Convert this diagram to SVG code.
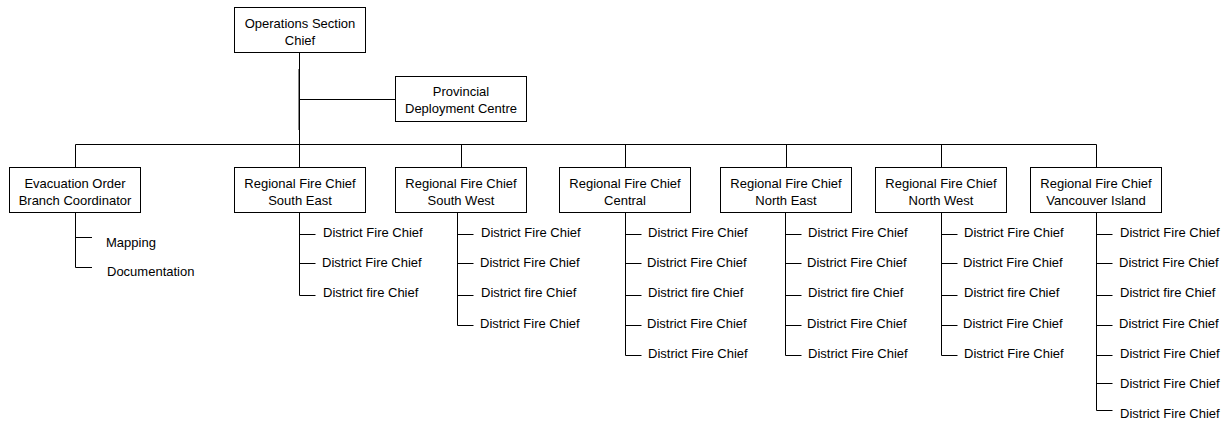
<svg xmlns="http://www.w3.org/2000/svg" width="1224" height="421" viewBox="0 0 1224 421">
<style>
.box{fill:#fff;stroke:#000;stroke-width:1}
.t{font-family:"Liberation Sans",Arial,sans-serif;font-size:13px;fill:#000}
.c{text-anchor:middle}
.ln{stroke:#000;stroke-width:1;fill:none}
</style>
<rect width="1224" height="421" fill="#fff"/>
<g id="connectors" class="ln">
<path d="M298.5 69V130" stroke="#888"/>
<path d="M299.5 52.5V167.5M299.5 99.5H395.5"/>
<path d="M75.5 144.5H1096.5"/>
<path d="M75.5 144.5V167.5M461.5 144.5V167.5M625.5 144.5V167.5M786.5 144.5V167.5M941.5 144.5V167.5M1096.5 144.5V167.5"/>
<path d="M75.5 212.5V267.5H92M75.5 237.5H92"/>
<path d="M299.5 212.5V295.5H315.5M299.5 234.5H315.5M299.5 263.5H315.5"/>
<path d="M457.5 212.5V325.5H473.5M457.5 234.5H473.5M457.5 263.5H473.5M457.5 295.5H473.5"/>
<path d="M625.5 212.5V355.5H641.5M625.5 234.5H641.5M625.5 263.5H641.5M625.5 295.5H641.5M625.5 325.5H641.5"/>
<path d="M785.5 212.5V355.5H801.5M785.5 234.5H801.5M785.5 263.5H801.5M785.5 295.5H801.5M785.5 325.5H801.5"/>
<path d="M941.5 212.5V355.5H957.5M941.5 234.5H957.5M941.5 263.5H957.5M941.5 295.5H957.5M941.5 325.5H957.5"/>
<path d="M1096.5 212.5V410.5H1112.5M1096.5 234.5H1112.5M1096.5 263.5H1112.5M1096.5 295.5H1112.5M1096.5 325.5H1112.5M1096.5 355.5H1112.5M1096.5 383.5H1112.5"/>
</g>
<g id="ops"><rect class="box" x="234.5" y="7.5" width="131" height="45"/><text class="t c" x="300" y="28">Operations Section</text><text class="t c" x="300" y="44.5">Chief</text></g>
<g id="pdc"><rect class="box" x="395.5" y="76.5" width="131" height="45"/><text class="t c" x="461" y="96">Provincial</text><text class="t c" x="461" y="112.5">Deployment Centre</text></g>
<g id="evac"><rect class="box" x="9.5" y="167.5" width="131" height="45"/><text class="t c" x="75" y="188">Evacuation Order</text><text class="t c" x="75" y="204.5">Branch Coordinator</text></g>
<g id="se"><rect class="box" x="234.5" y="167.5" width="131" height="45"/><text class="t c" x="300" y="188">Regional Fire Chief</text><text class="t c" x="300" y="204.5">South East</text></g>
<g id="sw"><rect class="box" x="395.5" y="167.5" width="131" height="45"/><text class="t c" x="461" y="188">Regional Fire Chief</text><text class="t c" x="461" y="204.5">South West</text></g>
<g id="central"><rect class="box" x="559.5" y="167.5" width="131" height="45"/><text class="t c" x="625" y="188">Regional Fire Chief</text><text class="t c" x="625" y="204.5">Central</text></g>
<g id="ne"><rect class="box" x="720.5" y="167.5" width="131" height="45"/><text class="t c" x="786" y="188">Regional Fire Chief</text><text class="t c" x="786" y="204.5">North East</text></g>
<g id="nw"><rect class="box" x="875.5" y="167.5" width="131" height="45"/><text class="t c" x="941" y="188">Regional Fire Chief</text><text class="t c" x="941" y="204.5">North West</text></g>
<g id="vi"><rect class="box" x="1030.5" y="167.5" width="131" height="45"/><text class="t c" x="1096" y="188">Regional Fire Chief</text><text class="t c" x="1096" y="204.5">Vancouver Island</text></g>
<g id="mapping"><text class="t" x="106" y="246.5">Mapping</text></g>
<g id="documentation"><text class="t" x="107" y="275.5">Documentation</text></g>
<g id="se-districts">
<g id="se-d1"><text class="t" x="323" y="237">District Fire Chief</text></g>
<g id="se-d2"><text class="t" x="322" y="267">District Fire Chief</text></g>
<g id="se-d3"><text class="t" x="323" y="297">District fire Chief</text></g>
</g>
<g id="sw-districts">
<g id="sw-d1"><text class="t" x="481" y="237">District Fire Chief</text></g>
<g id="sw-d2"><text class="t" x="480" y="267">District Fire Chief</text></g>
<g id="sw-d3"><text class="t" x="481" y="297">District fire Chief</text></g>
<g id="sw-d4"><text class="t" x="480" y="327.5">District Fire Chief</text></g>
</g>
<g id="central-districts">
<g id="c-d1"><text class="t" x="648" y="237">District Fire Chief</text></g>
<g id="c-d2"><text class="t" x="647" y="267">District Fire Chief</text></g>
<g id="c-d3"><text class="t" x="648" y="297">District fire Chief</text></g>
<g id="c-d4"><text class="t" x="647" y="327.5">District Fire Chief</text></g>
<g id="c-d5"><text class="t" x="648" y="358">District Fire Chief</text></g>
</g>
<g id="ne-districts">
<g id="ne-d1"><text class="t" x="808" y="237">District Fire Chief</text></g>
<g id="ne-d2"><text class="t" x="807" y="267">District Fire Chief</text></g>
<g id="ne-d3"><text class="t" x="808" y="297">District fire Chief</text></g>
<g id="ne-d4"><text class="t" x="807" y="327.5">District Fire Chief</text></g>
<g id="ne-d5"><text class="t" x="808" y="358">District Fire Chief</text></g>
</g>
<g id="nw-districts">
<g id="nw-d1"><text class="t" x="964" y="237">District Fire Chief</text></g>
<g id="nw-d2"><text class="t" x="963" y="267">District Fire Chief</text></g>
<g id="nw-d3"><text class="t" x="964" y="297">District fire Chief</text></g>
<g id="nw-d4"><text class="t" x="963" y="327.5">District Fire Chief</text></g>
<g id="nw-d5"><text class="t" x="964" y="358">District Fire Chief</text></g>
</g>
<g id="vi-districts">
<g id="vi-d1"><text class="t" x="1120" y="237">District Fire Chief</text></g>
<g id="vi-d2"><text class="t" x="1119" y="267">District Fire Chief</text></g>
<g id="vi-d3"><text class="t" x="1120" y="297">District fire Chief</text></g>
<g id="vi-d4"><text class="t" x="1119" y="327.5">District Fire Chief</text></g>
<g id="vi-d5"><text class="t" x="1120" y="358">District Fire Chief</text></g>
<g id="vi-d6"><text class="t" x="1120" y="388">District Fire Chief</text></g>
<g id="vi-d7"><text class="t" x="1120" y="418">District Fire Chief</text></g>
</g>
</svg>
